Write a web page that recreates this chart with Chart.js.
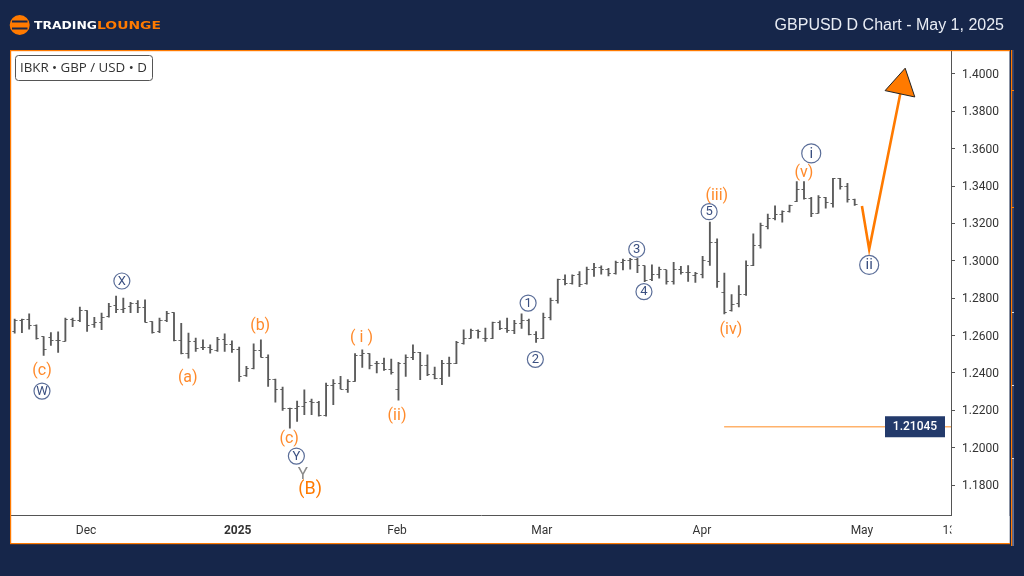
<!DOCTYPE html>
<html><head><meta charset="utf-8">
<style>html,body{margin:0;padding:0;background:#16264A}canvas{display:block}</style>
<script src="https://cdn.jsdelivr.net/npm/chart.js@4/dist/chart.umd.min.js"></script>
</head><body><canvas id="c" width="1024" height="576"></canvas>
<script>
const opens=[1.2622,1.2680,1.2684,1.2652,1.2595,1.2590,1.2572,1.2570,1.2684,1.2680,1.2734,1.2657,1.2672,1.2702,1.2759,1.2737,1.2755,1.2773,1.2752,1.2675,1.2620,1.2679,1.2723,1.2574,1.2506,1.2568,1.2536,1.2538,1.2520,1.2581,1.2550,1.2524,1.2385,1.2422,1.2518,1.2485,1.2364,1.2314,1.2207,1.2207,1.2218,1.2248,1.2244,1.2171,1.2333,
1.2346,1.2314,1.2355,1.2492,1.2503,1.2448,1.2453,1.2417,1.2314,1.2453,1.2480,1.2510,1.2439,1.2394,1.2369,1.2449,1.2449,1.2560,1.2586,1.2626,1.2586,1.2586,1.2672,1.2636,1.2626,1.2667,1.2681,1.2604,1.2586,1.2699,1.2788,1.2898,1.2880,1.2925,1.2880,1.2955,1.2964,1.2951,1.2930,1.2992,1.3001,1.3005,1.2973,1.2898,1.2925,1.2951,1.2889,
1.2952,1.2938,1.2920,1.2926,1.2997,1.3100,1.2831,1.2733,1.2769,1.2819,1.2974,1.3081,1.3184,1.3227,1.3246,1.3264,1.3319,1.3380,1.3335,1.3255,1.3339,1.3308,1.3442,1.3397,1.3330];
const highs=[1.2688,1.2688,1.2716,1.2657,1.2595,1.2616,1.2620,1.2693,1.2693,1.2752,1.2734,1.2698,1.2720,1.2773,1.2812,1.2801,1.2778,1.2787,1.2791,1.2675,1.2693,1.2730,1.2723,1.2666,1.2613,1.2586,1.2577,1.2550,1.2590,1.2609,1.2572,1.2538,1.2435,1.2556,1.2577,1.2497,1.2367,1.2324,1.2212,1.2250,1.2310,1.2260,1.2248,1.2346,1.2364,
1.2382,1.2364,1.2503,1.2524,1.2503,1.2462,1.2480,1.2474,1.2457,1.2497,1.2551,1.2510,1.2497,1.2432,1.2467,1.2485,1.2569,1.2631,1.2635,1.2631,1.2640,1.2672,1.2679,1.2693,1.2681,1.2716,1.2688,1.2622,1.2720,1.2800,1.2902,1.2925,1.2925,1.2942,1.2966,1.2987,1.2973,1.2960,1.2999,1.3010,1.3014,1.3014,1.2973,1.2978,1.2966,1.2951,1.2992,
1.2970,1.2974,1.2938,1.3024,1.3207,1.3118,1.2935,1.2819,1.2867,1.3000,1.3145,1.3202,1.3250,1.3294,1.3267,1.3299,1.3424,1.3424,1.3340,1.3349,1.3340,1.3442,1.3442,1.3415,1.3330];
const lows=[1.2613,1.2616,1.2634,1.2581,1.2494,1.2547,1.2510,1.2570,1.2648,1.2675,1.2622,1.2643,1.2631,1.2698,1.2723,1.2723,1.2723,1.2723,1.2672,1.2613,1.2616,1.2675,1.2572,1.2502,1.2479,1.2515,1.2524,1.2506,1.2515,1.2515,1.2510,1.2355,1.2381,1.2421,1.2485,1.2328,1.2243,1.2200,1.2104,1.2141,1.2177,1.2177,1.2168,1.2168,1.2230,
1.2314,1.2296,1.2355,1.2430,1.2421,1.2400,1.2414,1.2394,1.2254,1.2382,1.2471,1.2364,1.2385,1.2368,1.2337,1.2382,1.2449,1.2554,1.2586,1.2586,1.2569,1.2583,1.2631,1.2617,1.2610,1.2638,1.2604,1.2563,1.2583,1.2684,1.2773,1.2871,1.2875,1.2862,1.2875,1.2916,1.2928,1.2919,1.2928,1.2951,1.2955,1.2937,1.2889,1.2894,1.2907,1.2875,1.2875,
1.2929,1.2890,1.2885,1.2908,1.2976,1.2858,1.2716,1.2730,1.2753,1.2815,1.2974,1.3068,1.3171,1.3219,1.3207,1.3260,1.3317,1.3330,1.3237,1.3255,1.3282,1.3287,1.3383,1.3314,1.3296];
const closes=[1.2680,1.2684,1.2652,1.2586,1.2527,1.2572,1.2572,1.2684,1.2680,1.2734,1.2654,1.2672,1.2698,1.2755,1.2737,1.2746,1.2773,1.2752,1.2672,1.2616,1.2679,1.2716,1.2575,1.2506,1.2568,1.2533,1.2536,1.2527,1.2581,1.2550,1.2524,1.2381,1.2422,1.2518,1.2485,1.2364,1.2314,1.2207,1.2207,1.2218,1.2244,1.2244,1.2171,1.2333,1.2346,
1.2314,1.2355,1.2492,1.2503,1.2442,1.2453,1.2417,1.2400,1.2453,1.2480,1.2510,1.2439,1.2394,1.2369,1.2449,1.2449,1.2565,1.2586,1.2626,1.2622,1.2586,1.2672,1.2636,1.2626,1.2667,1.2681,1.2604,1.2583,1.2699,1.2788,1.2898,1.2880,1.2919,1.2871,1.2955,1.2966,1.2951,1.2930,1.2992,1.3001,1.3005,1.2973,1.2894,1.2925,1.2951,1.2889,1.2951,
1.2935,1.2938,1.2931,1.3002,1.3100,1.2887,1.2725,1.2765,1.2819,1.2974,1.3081,1.3187,1.3227,1.3246,1.3264,1.3296,1.3380,1.3332,1.3255,1.3339,1.3312,1.3442,1.3397,1.3330,1.3299];

const yTickValues=[1.40,1.38,1.36,1.34,1.32,1.30,1.28,1.26,1.24,1.22,1.20,1.18];
const xTickPositions=[9.85,30.8,52.8,72.8,94.9,117,129.05];
const xTickLabels=['Dec','2025','Feb','Mar','Apr','May','13'];

const forecastX=[117,118,122.4];
const forecastY=[1.3293,1.3062,1.3914];
const headX=[122.97,120.2,124.3];
const headY=[1.4031,1.3911,1.3877];
const levelX=[97.97,129.3];
const levelY=[1.2112,1.2112];
const levelText='1.21045';

const orangeLabels=[['(c)',3.77,1.2408],['(a)',23.9,1.2371],['(b)',33.9,1.2649],['(c)',37.9,1.2044],['( i )',47.9,1.2587],['(ii)',52.8,1.2168],['(iii)',96.96,1.3345],['(iv)',98.9,1.2632],['(v)',109,1.3470]];
const circleLabels=[['W',3.77,1.2303,8],['X',14.8,1.2892,8],['Y',38.9,1.1955,8],['1',70.9,1.2774,8],['2',71.9,1.2473,8],['3',85.9,1.3062,8],['4',86.9,1.2835,8],['5',95.9,1.3263,8],['i',110,1.3575,9.5],['ii',118,1.2978,9.5]];
const greyLabel=['Y',39.8,1.1853];
const bigLabel=['(B)',40.8,1.1778];

const NAVY='#16264A',ORANGE='#FF7A00',BAR='#5A5A5A';

function tickCanvas(side){
  const c=document.createElement('canvas');c.width=6;c.height=1;
  const g=c.getContext('2d');g.fillStyle=BAR;
  g.fillRect(side<0?0.5:3,0,2.5,1);return c;
}
const idx=opens.map((_,i)=>i);

const frame={id:'frame',
  beforeDraw(ch){const g=ch.ctx;g.save();
    g.fillStyle=NAVY;g.fillRect(0,0,1024,576);
    g.fillStyle='#fff';g.fillRect(11,51,998.5,492);
    g.restore();},
  afterDatasetsDraw(ch){
    const g=ch.ctx,x=ch.scales.x,y=ch.scales.y;g.save();
    g.beginPath();
    headX.forEach((v,i)=>{const px=x.getPixelForValue(v),py=y.getPixelForValue(headY[i]);i?g.lineTo(px,py):g.moveTo(px,py);});
    g.closePath();g.fillStyle=ORANGE;g.fill();g.strokeStyle='#222';g.lineWidth=1;g.stroke();
    g.textAlign='center';g.textBaseline='middle';
    g.fillStyle='#FF8A2B';g.font='16px Roboto';
    orangeLabels.forEach(l=>g.fillText(l[0],x.getPixelForValue(l[1]),y.getPixelForValue(l[2])));
    circleLabels.forEach(l=>{const px=x.getPixelForValue(l[1]),py=y.getPixelForValue(l[2]);
      g.beginPath();g.arc(px,py,l[3],0,Math.PI*2);g.strokeStyle='#5A6D98';g.lineWidth=1.2;g.stroke();
      g.fillStyle='#3A4F80';g.font=(l[3]>9?'15px':'13px')+' Roboto';g.fillText(l[0],px,py+0.5);});
    g.fillStyle='#8A8A8A';g.font='17px Roboto';
    g.fillText(greyLabel[0],x.getPixelForValue(greyLabel[1]),y.getPixelForValue(greyLabel[2]));
    g.fillStyle=ORANGE;g.font='18px Roboto';
    g.fillText(bigLabel[0],x.getPixelForValue(bigLabel[1]),y.getPixelForValue(bigLabel[2]));
    const ly=y.getPixelForValue(levelY[0]);
    g.fillStyle='#233A6B';g.fillRect(885,ly-10.5,60,21);
    g.fillStyle='#fff';g.font='500 12px Roboto';g.fillText(levelText,915,ly+0.5);
    g.restore();},
  afterDraw(ch){const g=ch.ctx;g.save();
    g.fillStyle='#fff';g.fillRect(951.5,516,58,27);
    // frame edges
    g.fillStyle=ORANGE;
    g.fillRect(10,50,1000,1.2);g.fillRect(10,50,1.2,494);g.fillRect(10,543,1000,1.2);
    g.fillStyle='#2B4070';g.fillRect(1012.2,50,1.8,408);
    g.fillStyle='#5C6F9B';g.fillRect(1012.2,458,1.8,88);
    g.fillStyle=ORANGE;g.fillRect(1011,50,1.2,496);
    g.fillRect(1012,90,2,1);g.fillRect(1012,207,2,1);
    g.fillStyle='#D8DEEA';g.fillRect(1012,312,2,1);g.fillRect(1012,385,2,1);g.fillRect(1012,458,2,1);
    // box label
    g.beginPath();g.roundRect(15.5,55.5,137,25,3);g.strokeStyle='#555';g.lineWidth=1;g.stroke();
    g.fillStyle='#333';g.font='13.3px "Open Sans"';g.textAlign='left';g.textBaseline='middle';
    g.fillText('IBKR \u2022 GBP / USD \u2022 D',20,68);
    // title
    g.fillStyle='#E9EDF5';g.font='16px "Liberation Sans"';g.textAlign='right';g.textBaseline='alphabetic';
    g.fillText('GBPUSD D Chart - May 1, 2025',1004,29.5);
    // logo
    g.fillStyle=ORANGE;g.beginPath();g.arc(19.7,25,10,0,Math.PI*2);g.fill();
    g.fillStyle=NAVY;g.fillRect(12,20.5,15.5,2);g.fillRect(12,27.5,15.5,2);
    g.textAlign='left';g.font='bold 10px "DejaVu Sans"';
    const fit=(t,x0,w,col)=>{g.save();const m=g.measureText(t).width;g.translate(x0,29);g.scale(w/m,1);g.fillStyle=col;g.fillText(t,0,0);g.restore();};
    fit('TRADING',34,63,'#fff');fit('LOUNGE',97,64,ORANGE);
    g.restore();}
};

new Chart(document.getElementById('c'),{
  type:'bar',
  data:{datasets:[
    {type:'line',data:forecastX.map((v,i)=>({x:v,y:forecastY[i]})),borderColor:ORANGE,borderWidth:2.6,pointRadius:0,tension:0,order:1},
    {type:'line',data:levelX.map((v,i)=>({x:v,y:levelY[i]})),borderColor:'#FFB26B',borderWidth:1.5,pointRadius:0,tension:0,order:2},
    {type:'line',data:idx.map(i=>({x:i,y:opens[i]})),showLine:false,pointStyle:tickCanvas(-1),pointRadius:3,order:3},
    {type:'line',data:idx.map(i=>({x:i,y:closes[i]})),showLine:false,pointStyle:tickCanvas(1),pointRadius:3,order:3},
    {type:'bar',data:idx.map(i=>({x:i,y:[lows[i],highs[i]]})),backgroundColor:BAR,borderWidth:0,barThickness:1.2,order:4}
  ]},
  options:{responsive:false,animation:false,devicePixelRatio:1,
    layout:{padding:{left:11.5,right:12,top:51,bottom:32.5}},
    plugins:{legend:{display:false},tooltip:{enabled:false}},
    events:[],
    scales:{
      x:{type:'linear',offset:false,min:-0.44,max:129.3,
        grid:{display:false,offset:false},border:{color:'#555555',width:1},
        afterBuildTicks(s){s.ticks=xTickPositions.map(v=>({value:v}));},
        afterFit(s){s.height=28;},
        ticks:{autoSkip:false,maxRotation:0,padding:0,color:'#333',
          font:c=>({family:'Roboto',size:12,weight:c.tick&&c.tick.value===30.8?'bold':'normal'}),
          callback:v=>xTickLabels[xTickPositions.indexOf(v)]}},
      y:{type:'linear',position:'right',min:1.1637,max:1.4123,
        grid:{drawOnChartArea:false,drawTicks:true,tickLength:4,tickColor:'#555555'},border:{color:'#555555',width:1},
        afterBuildTicks(s){s.ticks=yTickValues.map(v=>({value:v}));},
        afterFit(s){s.width=61;},
        ticks:{padding:7,labelOffset:1,color:'#333',font:{family:'Roboto',size:12},callback:v=>v.toFixed(4)}}
    }
  },
  plugins:[frame]
});
</script></body></html>
